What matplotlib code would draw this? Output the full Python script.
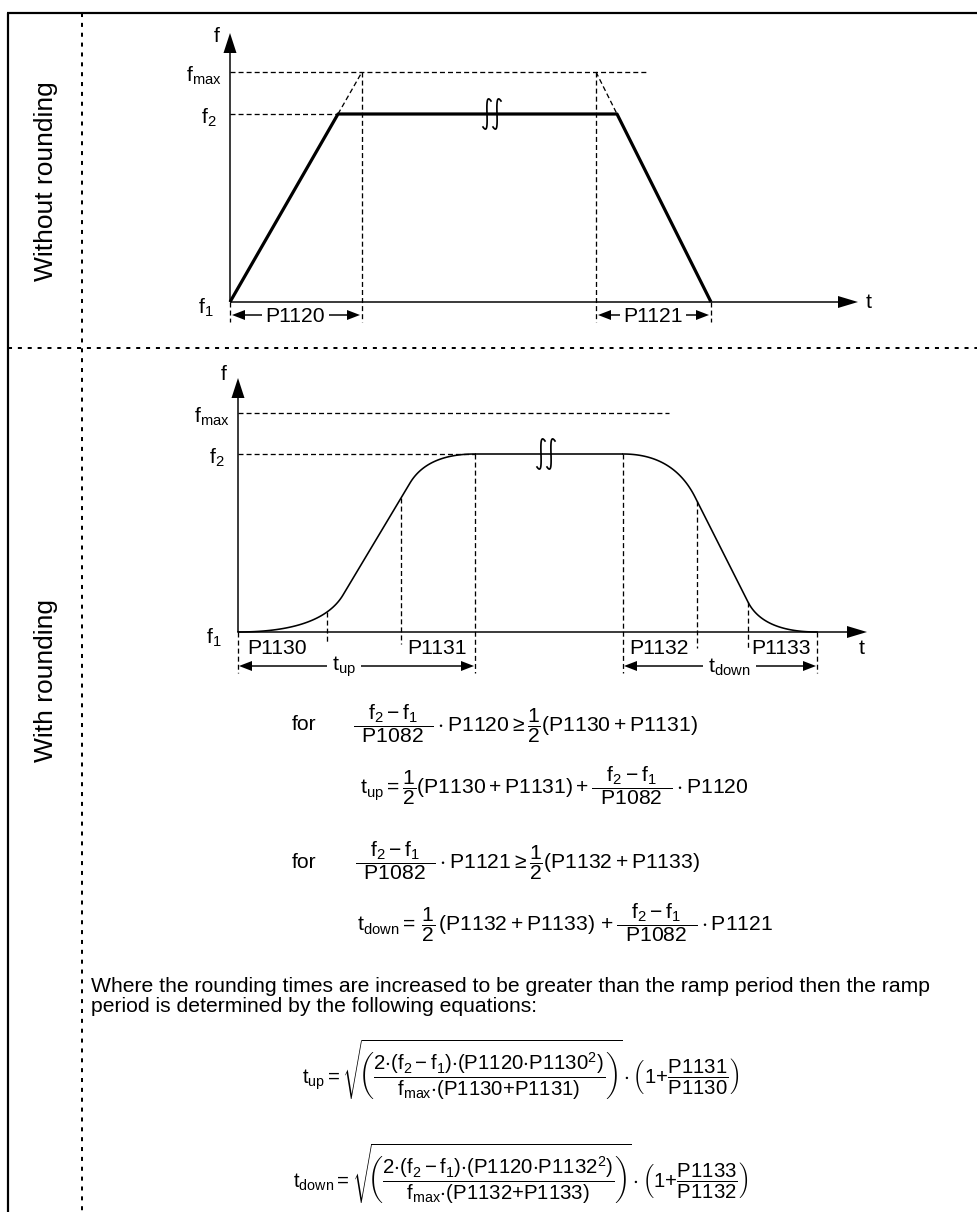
import numpy as np
import matplotlib
matplotlib.use('Agg')
import matplotlib.pyplot as plt
from matplotlib.patches import Polygon

plt.rcParams['font.family'] = ['Liberation Sans', 'DejaVu Sans']
plt.rcParams['mathtext.fontset'] = 'custom'
plt.rcParams['mathtext.rm'] = 'Liberation Sans'
plt.rcParams['mathtext.it'] = 'Liberation Sans'
plt.rcParams['mathtext.sf'] = 'Liberation Sans'
plt.rcParams['mathtext.bf'] = 'Liberation Sans:bold'
plt.rcParams['mathtext.default'] = 'regular'
plt.rcParams['lines.scale_dashes'] = False

# side titles of the two sections
section_titles = ['Without rounding', 'With rounding']

# top diagram (no rounding): levels f1, f2, fmax and ramp times
top_levels = [302, 114, 72]
top_times = [230, 338, 362, 596, 617, 711]
top_dim_labels = ['P1120', 'P1121']

# bottom diagram (with rounding): levels f1, f2, fmax
bot_levels = [632, 454, 413]
# ramp up: start, end of first rounding, end of linear part, reach f2
up_knots_t = [238, 343, 410, 475]
up_knots_f = [632, 595, 483, 454]
# ramp down: leave f2, end of first rounding, end of linear part, reach f1
down_knots_t = [623, 695, 748, 817]
down_knots_f = [454, 497, 602, 632]
up_marks = [238, 327, 401, 475]
down_marks = [623, 697, 748, 817]
round_labels = ['P1130', 'P1131', 'P1132', 'P1133']

# equations
PAD = r'\enspace'
eq_for = [
    r'$\dfrac{f_2 - f_1}{%sP1082%s}\cdot P1120 \geq \dfrac{1}{2}(P1130 + P1131)$' % (PAD, PAD),
    r'$\dfrac{f_2 - f_1}{%sP1082%s}\cdot P1121 \geq \dfrac{1}{2}(P1132 + P1133)$' % (PAD, PAD),
]
eq_t = [
    r'$t_{up} = \dfrac{1}{2}(P1130 + P1131) + \dfrac{f_2 - f_1}{%sP1082%s}\cdot P1120$' % (PAD, PAD),
    r'$t_{down} = \,\dfrac{1}{2}\,(P1132 + P1133) \,+ \dfrac{f_2 - f_1}{%sP1082%s}\cdot P1121$' % (PAD, PAD),
]
eq_sqrt = [
    r'$t_{up} = \sqrt{\!\!\left(\dfrac{2{\cdot}(f_2 - f_1){\cdot}(P1120{\cdot}P1130^2)}'
    r'{f_{max}{\cdot}(P1130{+}P1131)}\right)\!}\cdot\left(1{+}\dfrac{P1131}{P1130}\right)$',
    r'$t_{down} = \sqrt{\!\!\left(\dfrac{2{\cdot}(f_2 - f_1){\cdot}(P1120{\cdot}P1132^2)}'
    r'{f_{max}{\cdot}(P1132{+}P1133)}\right)\!}\cdot\left(1{+}\dfrac{P1133}{P1132}\right)$',
]
paragraph = ['Where the rounding times are increased to be greater than the ramp period then the ramp',
             'period is determined by the following equations:']

PX = 0.72  # points per pixel at dpi 100
FS = 15.2

fig = plt.figure(figsize=(9.77, 12.12), dpi=100)
ax = fig.add_axes([0, 0, 1, 1])
ax.set_xlim(0, 977)
ax.set_ylim(1212, 0)
ax.axis('off')


def line(xs, ys, w=1.5, dashed=False):
    ls = (0, (3.6, 2.2)) if dashed else '-'
    ax.plot(xs, ys, color='black', lw=w * PX, linestyle=ls, solid_capstyle='butt')


def head(tip, direction, length, width):
    d = np.array(direction, dtype=float)
    d = d / np.hypot(*d)
    p = np.array([-d[1], d[0]])
    tip = np.array(tip, dtype=float)
    base = tip - length * d
    ax.add_patch(Polygon([tip, base + p * width / 2, base - p * width / 2],
                         closed=True, color='black', lw=0))


def dim_arrow(x0, x1, y, label, gap0, gap1):
    head((x0, y), (-1, 0), 13, 10)
    head((x1, y), (1, 0), 13, 10)
    line([x0 + 5, gap0], [y, y])
    line([gap1, x1 - 5], [y, y])
    ax.text((gap0 + gap1) / 2, y + 1, label, ha='center', va='center', fontsize=FS)


def bez3(p0, p1, p2, p3, n=50):
    u = np.linspace(0, 1, n)[:, None]
    pts = [np.array(p, dtype=float) for p in (p0, p1, p2, p3)]
    return ((1 - u) ** 3 * pts[0] + 3 * u * (1 - u) ** 2 * pts[1]
            + 3 * u ** 2 * (1 - u) * pts[2] + u ** 3 * pts[3])


def break_mark(x, y):
    # two tall narrow "S" squiggles on the constant part of the ramp
    for dx in (0, 10):
        c = bez3((x + dx + 4, y - 13), (x + dx - 5, y - 26),
                 (x + dx + 5, y + 26), (x + dx - 4, y + 13))
        ax.plot(c[:, 0], c[:, 1], color='black', lw=1.7 * PX)


def bez(p0, c, p1, n=40):
    u = np.linspace(0, 1, n)[:, None]
    return (1 - u) ** 2 * np.array(p0) + 2 * u * (1 - u) * np.array(c) + u ** 2 * np.array(p1)


def s_curve(ts, fs):
    p0, k1, k2, p3 = [np.array(p, dtype=float) for p in zip(ts, fs)]
    m = (k2[1] - k1[1]) / (k2[0] - k1[0])
    c1 = (k1[0] - (k1[1] - p0[1]) / m, p0[1])
    c2 = (k2[0] + (p3[1] - k2[1]) / m, p3[1])
    return np.vstack([bez(p0, c1, k1), [k1, k2], bez(k2, c2, p3)])


# frame and section separators
line([8, 8], [13, 1212], w=2.2)
line([7, 977], [13, 13], w=2.2)
ax.plot([82, 82], [13, 1212], color='black', lw=2 * PX, linestyle=(0, (2.9, 4.2)))
ax.plot([8, 977], [348, 348], color='black', lw=2 * PX, linestyle=(0, (2.9, 4.2)))

ax.text(46, 181, section_titles[0], rotation=90, ha='center', va='center', fontsize=19)
ax.text(46, 680, section_titles[1], rotation=90, ha='center', va='center', fontsize=19)

# ---- top diagram ----
f1, f2, fmax = top_levels
t0, t_f2, t_max, t_dmax, t_df2, t_end = top_times
x_axis_end = 858
line([t0, t0], [f1, 52])
head((t0, 33), (0, -1), 20, 13)
line([t0, x_axis_end - 18], [f1, f1])
head((x_axis_end, f1), (1, 0), 20, 12)
ax.text(217, 37, 'f', ha='center', va='center', fontsize=FS)
ax.text(866, f1 + 1, 't', ha='left', va='center', fontsize=FS)
ax.text(222, fmax + 4, r'$f_{max}$', ha='right', va='center', fontsize=FS)
ax.text(217, f2 + 4, r'$f_2$', ha='right', va='center', fontsize=FS)
ax.text(214, f1 + 6, r'$f_1$', ha='right', va='center', fontsize=FS)

line([t0, 647], [fmax, fmax], w=1.3, dashed=True)
line([t0, t_f2], [f2, f2], w=1.3, dashed=True)
line([t_f2, t_max], [f2, fmax], w=1.3, dashed=True)
line([t_dmax, t_df2], [fmax, f2], w=1.3, dashed=True)
line([t_max, t_max], [fmax, 322], w=1.3, dashed=True)
line([t_dmax, t_dmax], [fmax, 322], w=1.3, dashed=True)
line([t0, t0], [f1, 322], w=1.3, dashed=True)
line([t_end, t_end], [f1, 322], w=1.3, dashed=True)
line([t0, t_f2, t_df2, t_end], [f1, f2, f2, f1], w=3.2)
break_mark(487, f2)
dim_arrow(t0 + 2, t_max - 2, 315, top_dim_labels[0], 262, 329)
dim_arrow(t_dmax + 2, t_end - 2, 315, top_dim_labels[1], 620, 686)

# ---- bottom diagram ----
g1, g2, gmax = bot_levels
b0 = up_knots_t[0]
bx_end = 867
line([b0, b0], [g1, 397])
head((b0, 378), (0, -1), 20, 13)
line([b0, bx_end - 18], [g1, g1])
head((bx_end, g1), (1, 0), 20, 12)
ax.text(224, 375, 'f', ha='center', va='center', fontsize=FS)
ax.text(862, 648, 't', ha='center', va='center', fontsize=FS)
ax.text(230, gmax + 4, r'$f_{max}$', ha='right', va='center', fontsize=FS)
ax.text(225, g2 + 4, r'$f_2$', ha='right', va='center', fontsize=FS)
ax.text(222, g1 + 6, r'$f_1$', ha='right', va='center', fontsize=FS)

line([b0, 669], [gmax, gmax], w=1.3, dashed=True)
line([b0, up_knots_t[-1]], [g2, g2], w=1.3, dashed=True)

up = s_curve(up_knots_t, up_knots_f)
down = s_curve(down_knots_t, down_knots_f)
ax.plot(up[:, 0], up[:, 1], color='black', lw=1.6 * PX)
ax.plot(down[:, 0], down[:, 1], color='black', lw=1.6 * PX)
line([up_knots_t[-1], down_knots_t[0]], [g2, g2], w=1.6)
break_mark(541, g2)

for x, yb in zip(up_marks, [673, 644, 644, 673]):
    yt = np.interp(x, up[:, 0], up[:, 1])
    line([x, x], [yt, yb], w=1.3, dashed=True)
for x, yb in zip(down_marks, [673, 648, 648, 673]):
    yt = np.interp(x, down[:, 0], down[:, 1])
    line([x, x], [yt, yb], w=1.3, dashed=True)

for x, lab in zip([247, 407, 629, 751], round_labels):
    ax.text(x, 648, lab, ha='left', va='center', fontsize=FS)

dim_arrow(b0 + 1, up_knots_t[-1] - 1, 666, r'$t_{up}$', 327, 361)
dim_arrow(down_knots_t[0] + 1, down_knots_t[-1] - 1, 666, r'$t_{down}$', 703, 756)

# ---- equations ----
ax.text(292, 725, 'for', ha='left', va='center', fontsize=FS)
ax.text(353, 724, eq_for[0], ha='left', va='center', fontsize=FS)
ax.text(360, 786, eq_t[0], ha='left', va='center', fontsize=FS)
ax.text(292, 862, 'for', ha='left', va='center', fontsize=FS)
ax.text(355, 861, eq_for[1], ha='left', va='center', fontsize=FS)
ax.text(357, 923, eq_t[1], ha='left', va='center', fontsize=FS)

ax.text(91, 992, paragraph[0], ha='left', va='baseline', fontsize=FS)
ax.text(91, 1012, paragraph[1], ha='left', va='baseline', fontsize=FS)

ax.text(302, 1070, eq_sqrt[0], ha='left', va='center', fontsize=14.7)
ax.text(293, 1174, eq_sqrt[1], ha='left', va='center', fontsize=14.7)

fig.savefig('out.png', dpi=100)
